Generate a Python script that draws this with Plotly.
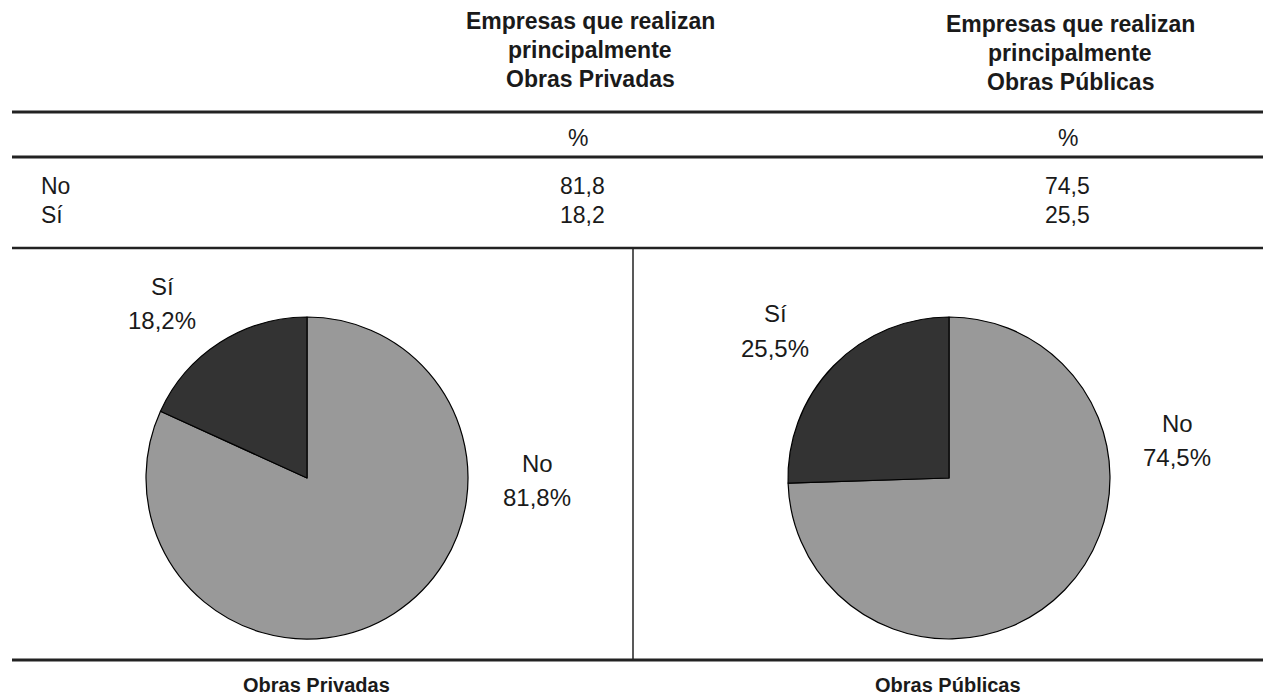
import plotly.graph_objects as go

W, H = 1263, 697

categories = ["No", "Sí"]
privadas = [81.8, 18.2]
publicas = [74.5, 25.5]
col_headers = [["Empresas que realizan", "principalmente", "Obras Privadas"],
               ["Empresas que realizan", "principalmente", "Obras Públicas"]]
pie_titles = ["Obras Privadas", "Obras Públicas"]
colors = ["#999999", "#333333"]

def fx(px):
    return px / W

def fy(py):
    return 1 - py / H

def fmt(v):
    return f"{v:.1f}".replace(".", ",")

fig = go.Figure()

pies = [(privadas, (146, 468)), (publicas, (788, 1110))]
for vals, (x0, x1) in pies:
    fig.add_trace(go.Pie(
        labels=categories, values=vals, sort=False, direction="clockwise",
        rotation=0, marker=dict(colors=colors, line=dict(color="black", width=1.2)),
        textinfo="none", hoverinfo="label+percent", showlegend=False,
        domain=dict(x=[fx(x0), fx(x1)], y=[fy(640), fy(316)])
    ))

font = "Liberation Sans, Arial, sans-serif"
TXT = "#1a1a1a"
ann = []

def add(text, cx, cy, size, bold=False, xanchor="center", yanchor="middle"):
    t = f"<b>{text}</b>" if bold else text
    ann.append(dict(x=fx(cx), y=fy(cy), text=t, showarrow=False, xref="paper", yref="paper",
                    xanchor=xanchor, yanchor=yanchor, borderpad=0,
                    font=dict(family=font, size=size, color=TXT)))

# headers
for lines, cx, y0 in [(col_headers[0], 590, 21), (col_headers[1], 1070, 24)]:
    for k, ln in enumerate(lines):
        add(ln, cx, y0 + 29 * k, 23, bold=True)
for cx in (578, 1068):
    add("%", cx, 138, 23)
for i, cat in enumerate(categories):
    yy = 186 + i * 29
    add(cat, 40, yy, 23, xanchor="left")
    add(fmt(privadas[i]), 582, yy, 23)
    add(fmt(publicas[i]), 1067, yy, 23)

# pie labels
pie_lbl = [
    (categories[1], privadas[1], 162, 286),
    (categories[0], privadas[0], 537, 463),
    (categories[1], publicas[1], 775, 314),
    (categories[0], publicas[0], 1177, 423),
]
for cat, v, cx, cy in pie_lbl:
    add(cat, cx, cy, 24)
    add(f"{fmt(v)}%", cx, cy + 34, 24)
for t, cx in zip(pie_titles, (316, 948)):
    add(t, cx, 697, 20, bold=True, yanchor="bottom")

shapes = []
for yy, w in [(112, 3), (157, 3), (248, 2.5), (660, 3)]:
    shapes.append(dict(type="line", xref="paper", yref="paper", x0=fx(12), x1=1,
                       y0=fy(yy), y1=fy(yy), line=dict(color="#222", width=w)))
shapes.append(dict(type="line", xref="paper", yref="paper", x0=fx(633), x1=fx(633),
                   y0=fy(248), y1=fy(660), line=dict(color="#222", width=1.5)))

fig.update_layout(width=W, height=H, margin=dict(l=0, r=0, t=0, b=0),
                  paper_bgcolor="white", plot_bgcolor="white",
                  annotations=ann, shapes=shapes)

fig.write_html("out.html", config={"displayModeBar": False},
               post_script="document.body.style.margin='0px';")
